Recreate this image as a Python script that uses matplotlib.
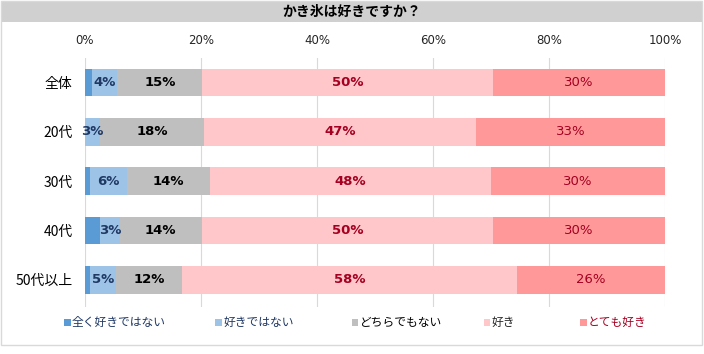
import matplotlib
matplotlib.use("Agg")
import matplotlib.pyplot as plt
from matplotlib.patches import Rectangle

plt.rcParams['font.family'] = ['Noto Sans CJK JP', 'DejaVu Sans']

title = "かき氷は好きですか？"
categories = ["全体", "20代", "30代", "40代", "50代以上"]
series_names = ["全く好きではない", "好きではない", "どちらでもない", "好き", "とても好き"]
not_at_all = [1.2, 0.0, 0.9, 2.6, 0.8]
dislike = [4.4, 2.6, 6.3, 3.4, 4.5]
neutral = [14.6, 17.9, 14.4, 14.1, 11.5]
like = [50.2, 46.9, 48.4, 50.3, 57.7]
love = [29.6, 32.6, 30.0, 29.6, 25.5]
series = [not_at_all, dislike, neutral, like, love]
xticks = [0, 20, 40, 60, 80, 100]
xtick_labels = ["0%", "20%", "40%", "60%", "80%", "100%"]

colors = ["#5b9bd5", "#9dc3e6", "#bfbfbf", "#ffc7c9", "#ff9999"]
label_colors = [None, "#1f3864", "#000000", "#a50021", "#a50021"]
label_weights = [None, "bold", "bold", "bold", "normal"]
legend_text_colors = ["#1f3864", "#1f3864", "#000000", "#262626", "#a50021"]

W, H = 704, 354
fig = plt.figure(figsize=(W / 100, H / 100), dpi=100)

# outer frame
fig.patches.append(Rectangle((0.5 / W, 1 - 345 / H), 701 / W, 344 / H,
                             transform=fig.transFigure, facecolor="none",
                             edgecolor="#d9d9d9", linewidth=1.0, zorder=5))
# title band
fig.patches.append(Rectangle((0.5 / W, 1 - 22 / H), 701 / W, 20 / H,
                             transform=fig.transFigure, facecolor="#d0d0d0",
                             edgecolor="none", zorder=1))
fig.text(352 / W, 1 - 12 / H, title, ha="center", va="center",
         fontsize=10, fontweight="bold", color="#000000")

left, right = 85 / W, 665 / W
top, bottom = 1 - 58 / H, 1 - 307 / H
ax = fig.add_axes([left, bottom, right - left, top - bottom], zorder=3)
ax.set_facecolor("none")

ypos = list(range(len(categories)))
lefts = [0.0] * len(categories)
for k, vals in enumerate(series):
    ax.barh(ypos, vals, left=lefts, height=0.56, color=colors[k],
            edgecolor="none", zorder=3)
    if label_colors[k] is not None:
        for i, v in enumerate(vals):
            if v > 0:
                ax.text(lefts[i] + v / 2, i, f"{int(v + 0.5)}%",
                        ha="center", va="center", fontsize=9.5,
                        family="DejaVu Sans", fontweight=label_weights[k],
                        color=label_colors[k], zorder=4)
    lefts = [a + b for a, b in zip(lefts, vals)]

ax.set_xlim(0, 100)
ax.set_ylim(len(categories) - 0.45, -0.5)
ax.set_xticks(xticks)
ax.set_xticklabels(xtick_labels, family="DejaVu Sans", fontsize=8.5, color="#262626")
ax.xaxis.tick_top()
ax.tick_params(axis="x", length=0, pad=8)
ax.set_yticks(ypos)
ax.set_yticklabels(categories, fontsize=10, color="#000000")
ax.tick_params(axis="y", length=0, pad=9)
ax.grid(axis="x", color="#d9d9d9", linewidth=0.8, zorder=0)
for s in ax.spines.values():
    s.set_visible(False)

# legend
leg_marker_x = [67, 218, 355, 487, 583]
leg_y = 1 - 322 / H
for k, name in enumerate(series_names):
    fig.patches.append(Rectangle(((leg_marker_x[k] - 3.5) / W, leg_y - 3.5 / H),
                                 7 / W, 7 / H, transform=fig.transFigure,
                                 facecolor=colors[k], edgecolor="none", zorder=2))
    fig.text((leg_marker_x[k] + 5) / W, leg_y, name, ha="left", va="center",
             fontsize=8.5, color=legend_text_colors[k])

fig.savefig("out.png", dpi=100)
